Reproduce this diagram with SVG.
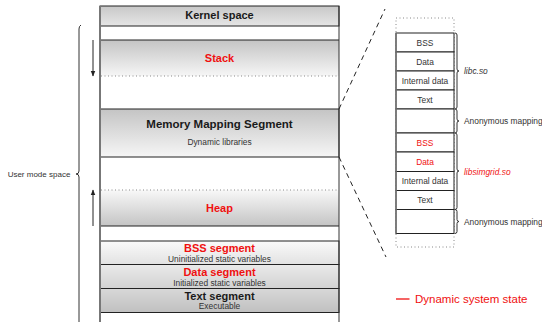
<svg xmlns="http://www.w3.org/2000/svg" width="542" height="322" viewBox="0 0 542 322">
<defs>
<linearGradient id="gDown" x1="0" y1="0" x2="0" y2="1"><stop offset="0" stop-color="#c4c4c4"/><stop offset="1" stop-color="#f6f6f6"/></linearGradient>
<linearGradient id="gUp" x1="0" y1="0" x2="0" y2="1"><stop offset="0" stop-color="#f8f8f8"/><stop offset="1" stop-color="#c4c4c4"/></linearGradient>
<linearGradient id="gKern" x1="0" y1="0" x2="0" y2="1"><stop offset="0" stop-color="#c8c8c8"/><stop offset="1" stop-color="#e6e6e6"/></linearGradient>
<linearGradient id="gBss" x1="0" y1="0" x2="0" y2="1"><stop offset="0" stop-color="#fafafa"/><stop offset="1" stop-color="#e2e2e2"/></linearGradient>
<linearGradient id="gData" x1="0" y1="0" x2="0" y2="1"><stop offset="0" stop-color="#eaeaea"/><stop offset="1" stop-color="#d2d2d2"/></linearGradient>
<linearGradient id="gText" x1="0" y1="0" x2="0" y2="1"><stop offset="0" stop-color="#d8d8d8"/><stop offset="1" stop-color="#c0c0c0"/></linearGradient>
<marker id="arr" viewBox="0 0 10 10" refX="9" refY="5" markerWidth="6" markerHeight="6" orient="auto"><path d="M0,1 L10,5 L0,9 Z" fill="#222"/></marker>
</defs>
<style>
text{font-family:"Liberation Sans",Arial,sans-serif;text-anchor:middle;}
.big{font-size:11px;font-weight:bold;fill:#1a1a1a;}
.small{font-size:8.4px;fill:#333;}
.seg{stroke:#222;stroke-width:1;}
.lbl{font-size:8.4px;fill:#333;text-anchor:start;}
.it{font-style:italic;}
.dot{stroke:#888;stroke-width:1;stroke-dasharray:1,2.5;fill:none;}
.dash{stroke:#222;stroke-width:1;stroke-dasharray:5,4;fill:none;}
.brace{stroke:#333;stroke-width:1;fill:none;}
.box{fill:#fff;stroke:#222;stroke-width:1;}
text.red{fill:#f01010;}
</style>
<g id="main">
<rect x="100" y="0" width="239" height="322" fill="#fff"/>
<g id="kernel"><rect x="100" y="6" width="239" height="20" fill="url(#gKern)" class="seg" stroke="#555"/><text class="big" x="219.5" y="19">Kernel space</text></g>
<g id="stack"><rect x="100" y="40" width="239" height="36" fill="url(#gDown)"/><line x1="100" y1="40" x2="339" y2="40" class="seg"/><line x1="101" y1="76" x2="339" y2="76" class="dot"/><text class="big red" x="219.5" y="62">Stack</text></g>
<g id="mms"><rect x="100" y="109" width="239" height="48" fill="url(#gDown)" class="seg"/><text class="big" x="219.5" y="127.5" style="font-size:11.5px">Memory Mapping Segment</text><text class="small" x="219.5" y="145">Dynamic libraries</text></g>
<g id="heap"><rect x="100" y="190" width="239" height="36" fill="url(#gUp)"/><line x1="101" y1="190" x2="339" y2="190" class="dot"/><line x1="100" y1="226" x2="339" y2="226" class="seg"/><text class="big red" x="219.5" y="212">Heap</text></g>
<g id="bss"><rect x="100" y="241" width="239" height="23.5" fill="url(#gBss)" class="seg" stroke="#555"/><text class="big red" x="219.5" y="252">BSS segment</text><text class="small" x="219.5" y="262">Uninitialized static variables</text></g>
<g id="data"><rect x="100" y="264.5" width="239" height="24" fill="url(#gData)" class="seg"/><text class="big red" x="219.5" y="276">Data segment</text><text class="small" x="219.5" y="286">Initialized static variables</text></g>
<g id="text"><rect x="100" y="288.5" width="239" height="24" fill="url(#gText)" class="seg"/><text class="big" x="219.5" y="300">Text segment</text><text class="small" x="219.5" y="309">Executable</text></g>
<line x1="100" y1="6" x2="100" y2="322" stroke="#777" stroke-width="2"/>
<line x1="339" y1="6" x2="339" y2="322" stroke="#333" stroke-width="1"/>
</g>
<g id="user-mode">
<path class="brace" d="M81,25 Q79,26 79,29 L79,171 Q79,174 76,174 Q79,174 79,177 L79,322"/>
<text x="39" y="177" style="font-size:8px;fill:#333">User mode space</text>
</g>
<g id="connectors">
<line x1="93" y1="40" x2="93" y2="76" stroke="#222" stroke-width="1" marker-end="url(#arr)"/>
<line x1="93" y1="226" x2="93" y2="190" stroke="#222" stroke-width="1" marker-end="url(#arr)"/>
<line x1="339" y1="109" x2="385" y2="9" class="dash"/>
<line x1="339" y1="157" x2="386" y2="257" class="dash"/>
</g>
<g id="mapping">
<rect x="396" y="18" width="58" height="229" class="dot"/>
<g id="libc">
<rect x="396" y="33" width="58" height="19" class="box"/><text x="425" y="45.5" class="small">BSS</text>
<rect x="396" y="52" width="58" height="19" class="box"/><text x="425" y="64.5" class="small">Data</text>
<rect x="396" y="71" width="58" height="19" class="box"/><text x="425" y="83.5" class="small">Internal data</text>
<rect x="396" y="90" width="58" height="19" class="box"/><text x="425" y="102.5" class="small">Text</text>
<path class="brace" d="M455,33 Q457,33 457,35 L457,69 Q457,71 459,71 Q457,71 457,73 L457,107 Q457,109 455,109"/>
<text x="464" y="74" class="lbl it">libc.so</text>
</g>
<g id="anon1">
<rect x="396" y="109" width="58" height="24" class="box"/>
<path class="brace" d="M455,109 Q457,109 457,111 L457,119 Q457,121 459,121 Q457,121 457,123 L457,131 Q457,133 455,133"/>
<text x="464" y="124" class="lbl">Anonymous mapping</text>
</g>
<g id="libsimgrid">
<rect x="396" y="133" width="58" height="19" class="box"/><text x="425" y="145.5" class="small red">BSS</text>
<rect x="396" y="152" width="58" height="19.5" class="box"/><text x="425" y="164.5" class="small red">Data</text>
<rect x="396" y="171.5" width="58" height="19" class="box"/><text x="425" y="184" class="small">Internal data</text>
<rect x="396" y="190.5" width="58" height="19" class="box"/><text x="425" y="203" class="small">Text</text>
<path class="brace" d="M455,133 Q457,133 457,135 L457,169 Q457,171 459,171 Q457,171 457,173 L457,207.5 Q457,209.5 455,209.5"/>
<text x="464" y="174.5" class="lbl it red">libsimgrid.so</text>
</g>
<g id="anon2">
<rect x="396" y="209.5" width="58" height="24" class="box"/>
<path class="brace" d="M455,209.5 Q457,209.5 457,211.5 L457,219.5 Q457,221.5 459,221.5 Q457,221.5 457,223.5 L457,231.5 Q457,233.5 455,233.5"/>
<text x="464" y="224.5" class="lbl">Anonymous mapping</text>
</g>
<line x1="396" y1="33" x2="396" y2="233.5" stroke="#777" stroke-width="1.5"/>
</g>
<g id="legend">
<line x1="396" y1="299" x2="409.5" y2="299" stroke="#f01010" stroke-width="1.3"/>
<text x="415" y="303" style="font-size:11.5px;fill:#f01010;text-anchor:start">Dynamic system state</text>
</g>
</svg>
